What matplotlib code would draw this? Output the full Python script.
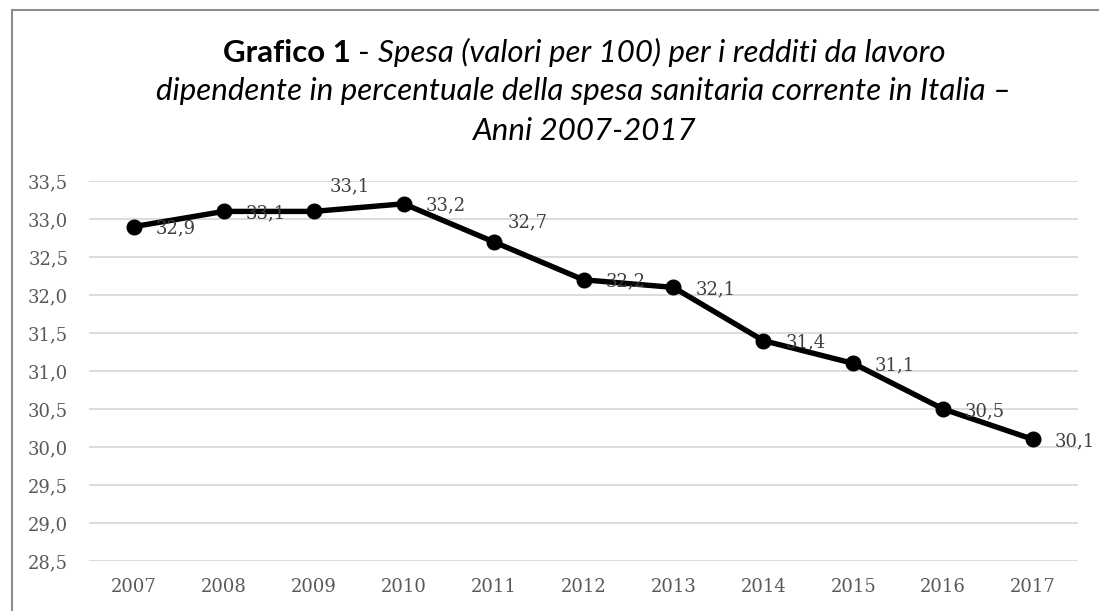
import numpy as np
import matplotlib
matplotlib.use("Agg")
import matplotlib.pyplot as plt
from matplotlib.lines import Line2D

# data
years = ['2007', '2008', '2009', '2010', '2011', '2012', '2013', '2014', '2015', '2016', '2017']
values = [32.9, 33.1, 33.1, 33.2, 32.7, 32.2, 32.1, 31.4, 31.1, 30.5, 30.1]
y_ticks = [28.5, 29.0, 29.5, 30.0, 30.5, 31.0, 31.5, 32.0, 32.5, 33.0, 33.5]

title_bold = "Grafico 1"
title_sep = "-"
title_line1 = "Spesa (valori per 100) per i redditi da lavoro"
title_line2 = "dipendente in percentuale della spesa sanitaria corrente in Italia \u2013"
title_line3 = "Anni 2007-2017"

def it_num(v):
    return f"{v:.1f}".replace('.', ',')

W, H = 1099, 611
fig = plt.figure(figsize=(W / 100, H / 100), dpi=100)
fig.patch.set_facecolor('white')

# plot area in pixels: left 89, right 1078, top 181, bottom 561
ax = fig.add_axes([89 / W, 1 - 561 / H, (1078 - 89) / W, (561 - 181) / H])

x = np.arange(len(years))
ax.plot(x, values, color='black', lw=3.9, marker='o', ms=10.5,
        solid_joinstyle='round', zorder=3, clip_on=False)
ax.set_xlim(-0.5, len(years) - 0.5)
ax.set_ylim(y_ticks[0], y_ticks[-1])
ax.set_yticks(y_ticks)
ax.set_yticklabels([it_num(v) for v in y_ticks])
ax.set_xticks(x)
ax.set_xticklabels(years)
ax.grid(axis='y', color='#d9d9d9', lw=1.3)
ax.set_axisbelow(True)
for s in ax.spines.values():
    s.set_visible(False)
ax.tick_params(axis='both', length=0, labelsize=13, labelcolor='#595959')
ax.tick_params(axis='y', pad=15)
ax.tick_params(axis='x', pad=12)
for lab in ax.get_xticklabels() + ax.get_yticklabels():
    lab.set_fontfamily('DejaVu Serif')

# data labels, mostly to the right; two were moved above in the original
nudge = {'2009': (36, 25), '2011': (34, 19)}
for i, v in enumerate(values):
    dx, dy = nudge.get(years[i], (42, -2))
    ax.annotate(it_num(v), (i, v), xytext=(dx, dy), textcoords='offset pixels',
                ha='center', va='center', fontsize=13, color='#404040',
                family='DejaVu Serif', zorder=4)

# chart border (cropped on right and bottom)
fig.add_artist(Line2D([12 / W, 12 / W], [0, 1 - 10 / H], transform=fig.transFigure,
                      color='#8c8c8c', lw=1.5))
fig.add_artist(Line2D([12 / W, 1], [1 - 10 / H, 1 - 10 / H], transform=fig.transFigure,
                      color='#8c8c8c', lw=1.5))

# title, sized so that the second line is about 852 px wide
tfont = 'Lato'
renderer = fig.canvas.get_renderer()
probe = fig.text(0, 0, title_line2, fontsize=20, style='italic', family=tfont)
fs = 20 * 852 / probe.get_window_extent(renderer).width
probe.remove()

cx = 584
def width_of(t):
    return t.get_window_extent(renderer).width

# line 1 in three runs
runs = [(title_bold, 'bold', 'normal'), (title_sep, 'normal', 'normal'),
        (title_line1, 'normal', 'italic')]
space = fs * 100 / 72 * 0.24
objs = []
for txt, wt, st in runs:
    t = fig.text(0, 1 - 62 / H, txt, fontsize=fs, weight=wt, style=st, family=tfont,
                 va='baseline', ha='left', color='black')
    objs.append(t)
total = sum(width_of(t) for t in objs) + space * (len(objs) - 1)
xpos = cx - total / 2
for t in objs:
    t.set_x(xpos / W)
    xpos += width_of(t) + space

fig.text(cx / W, 1 - 100 / H, title_line2, fontsize=fs, style='italic', family=tfont,
         va='baseline', ha='center', color='black')
fig.text(cx / W, 1 - 140 / H, title_line3, fontsize=fs, style='italic', family=tfont,
         va='baseline', ha='center', color='black')

fig.savefig('out.png', dpi=100, facecolor='white')
